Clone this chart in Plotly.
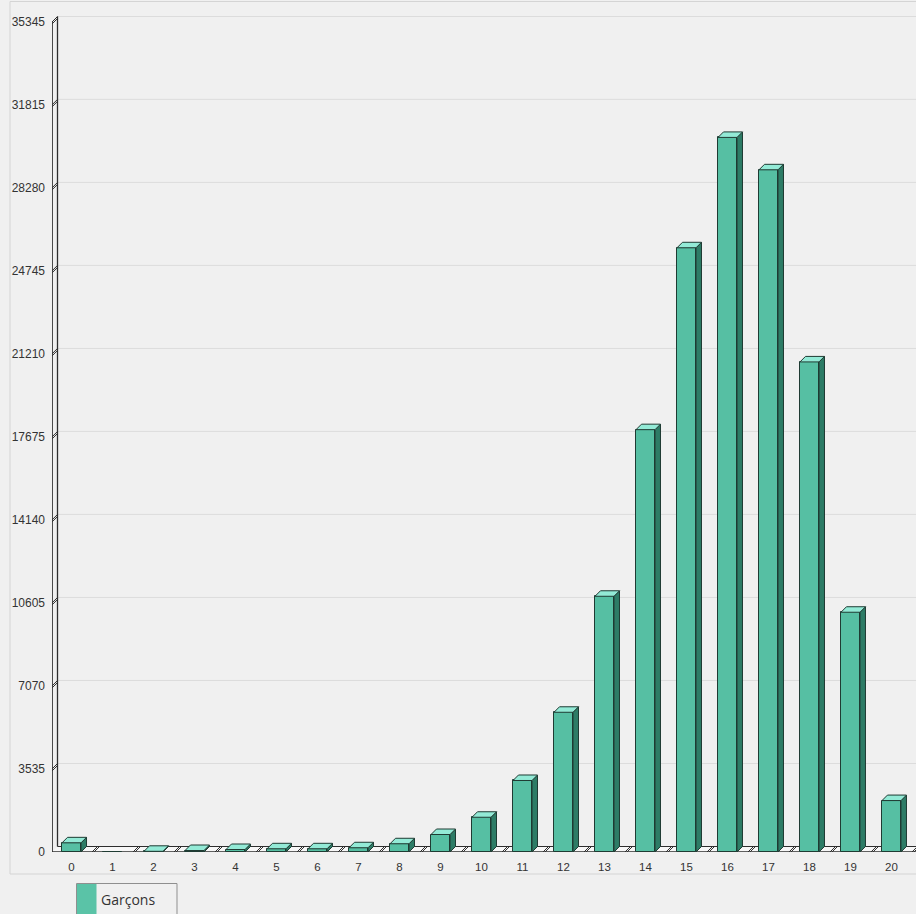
import plotly.graph_objects as go

# ---------------- data ----------------
categories = list(range(21))
tick_labels = [str(c) for c in categories]
garcons = [390, 0, 30, 64, 106, 136, 136, 180, 350, 745, 1480, 3045, 5950, 10890,
           17985, 25730, 30430, 29050, 20870, 10210, 2190]
y_ticks = [0, 3535, 7070, 10605, 14140, 17675, 21210, 24745, 28280, 31815, 35345]
y_tick_labels = [str(v) for v in y_ticks]
series_name = "Garçons"

# ---------------- styling ----------------
W, H = 916, 914
ML, MR, MT, MB = 52, 0, 10, 914 - 852
PW, PH = W - ML - MR, H - MT - MB
X_RANGE = [-0.476, 20.598]
Y_RANGE = [0, 35856]
XU = PW / (X_RANGE[1] - X_RANGE[0])        # px per category
YU = PH / (Y_RANGE[1] - Y_RANGE[0])        # px per value unit
DEPTH_PX = 5.5
DX = DEPTH_PX / XU
DY = DEPTH_PX / YU
BAR_W = 19 / XU

BG = "#f0f0f0"
FRONT = "#56bfa3"
TOP = "#93ead6"
SIDE = "#2d7c66"
EDGE = "#1f3b33"
AXIS = "#2e2e2e"
GRID = "#dcdcdc"
PANEL = "#d4d4d4"
TXT = "#333333"


def px_x(p):
    return (p - ML) / PW


def px_y(p):
    return (H - MB - p) / PH


fig = go.Figure()

# 3D faces
top_x, top_y, side_x, side_y = [], [], [], []
for c, v in zip(categories, garcons):
    if v <= 0:
        continue
    L, R = c - BAR_W / 2, c + BAR_W / 2
    top_x += [L, L + DX, R + DX, R, L, None]
    top_y += [v, v + DY, v + DY, v, v, None]
    side_x += [R, R, R + DX, R + DX, R, None]
    side_y += [0, v, v + DY, DY, 0, None]

fig.add_trace(go.Bar(
    x=categories, y=garcons, width=BAR_W, name=series_name,
    marker=dict(color=FRONT, line=dict(color=EDGE, width=1)),
    showlegend=False, hoverinfo="x+y"))
fig.add_trace(go.Scatter(
    x=side_x, y=side_y, mode="lines", fill="toself", fillcolor=SIDE,
    line=dict(color=EDGE, width=1), showlegend=False, hoverinfo="skip"))
fig.add_trace(go.Scatter(
    x=top_x, y=top_y, mode="lines", fill="toself", fillcolor=TOP,
    line=dict(color=EDGE, width=1), showlegend=False, hoverinfo="skip"))

shapes = []
xl, xr = X_RANGE
# floor
shapes.append(dict(type="path", xref="x", yref="y", layer="below",
                   path=f"M {xl},0 L {xl+DX},{DY} L {xr},{DY} L {xr},0 Z",
                   fillcolor="#f7f7f7", line=dict(width=0)))
# gridlines on back wall
for t in y_ticks[1:]:
    shapes.append(dict(type="line", xref="x", yref="y", layer="below",
                       x0=xl + DX, x1=xr, y0=t + DY, y1=t + DY,
                       line=dict(color=GRID, width=1)))
# floor lines
shapes.append(dict(type="line", xref="x", yref="y", layer="below",
                   x0=xl, x1=xr, y0=0, y1=0, line=dict(color=AXIS, width=1.3)))
shapes.append(dict(type="line", xref="x", yref="y", layer="below",
                   x0=xl + DX, x1=xr, y0=DY, y1=DY, line=dict(color=AXIS, width=1)))
# floor break marks between categories
for c in categories:
    b = c + 0.5
    for off in (0, 2.0 / XU):
        shapes.append(dict(type="line", xref="x", yref="y", layer="below",
                           x0=b + off, x1=b + off + DX, y0=0, y1=DY,
                           line=dict(color=AXIS, width=1)))
# y-axis wall lines
shapes.append(dict(type="line", xref="x", yref="y",
                   x0=xl + 0.005, x1=xl + 0.005, y0=0, y1=y_ticks[-1],
                   line=dict(color=AXIS, width=1.3)))
shapes.append(dict(type="line", xref="x", yref="y",
                   x0=xl + DX, x1=xl + DX, y0=DY, y1=y_ticks[-1] + DY,
                   line=dict(color=AXIS, width=1.3)))
# y-axis tick slashes
for t in y_ticks[1:]:
    for off in (0, 2.0 / YU):
        shapes.append(dict(type="line", xref="x", yref="y",
                           x0=xl, x1=xl + DX, y0=t - off, y1=t + DY - off,
                           line=dict(color=AXIS, width=1)))

# panel borders
shapes.append(dict(type="line", xref="paper", yref="paper", x0=px_x(10), x1=px_x(916),
                   y0=px_y(874), y1=px_y(874), line=dict(color=PANEL, width=1)))
shapes.append(dict(type="line", xref="paper", yref="paper", x0=px_x(10), x1=px_x(10),
                   y0=px_y(874), y1=px_y(1.5), line=dict(color=PANEL, width=1)))
shapes.append(dict(type="line", xref="paper", yref="paper", x0=px_x(10), x1=px_x(916),
                   y0=px_y(1.5), y1=px_y(1.5), line=dict(color=PANEL, width=1)))

# legend box
shapes.append(dict(type="rect", xref="paper", yref="paper",
                   x0=px_x(76.5), x1=px_x(177), y0=px_y(916), y1=px_y(883.5),
                   line=dict(color="#8f8f8f", width=1), fillcolor=BG))
shapes.append(dict(type="rect", xref="paper", yref="paper",
                   x0=px_x(77), x1=px_x(96.5), y0=px_y(916), y1=px_y(884),
                   line=dict(width=0), fillcolor="#5ac3a7"))

fig.update_layout(
    width=W, height=H, autosize=False,
    margin=dict(l=ML, r=MR, t=MT, b=MB, pad=0),
    paper_bgcolor=BG, plot_bgcolor=BG,
    showlegend=False,
    bargap=0,
    shapes=shapes,
    font=dict(family="Liberation Sans, Arial, sans-serif", color=TXT),
    xaxis=dict(range=X_RANGE, tickmode="array", tickvals=categories, ticktext=tick_labels,
               showgrid=False, zeroline=False, showline=False, ticks="",
               tickfont=dict(size=11.5, color=TXT), ticklabelstandoff=6, fixedrange=True),
    yaxis=dict(range=Y_RANGE, tickmode="array", tickvals=y_ticks, ticktext=y_tick_labels,
               showgrid=False, zeroline=False, showline=False, ticks="",
               tickfont=dict(size=12, color=TXT), ticklabelstandoff=6, fixedrange=True),
    annotations=[dict(xref="paper", yref="paper", x=px_x(99), y=px_y(899),
                      xanchor="left", yanchor="middle", showarrow=False,
                      text=series_name,
                      font=dict(family="Open Sans, sans-serif", size=14, color=TXT))],
)

fig.write_html(
    "out.html",
    config={"displayModeBar": False},
    post_script="document.body.style.margin='0';document.body.style.overflow='hidden';",
)
